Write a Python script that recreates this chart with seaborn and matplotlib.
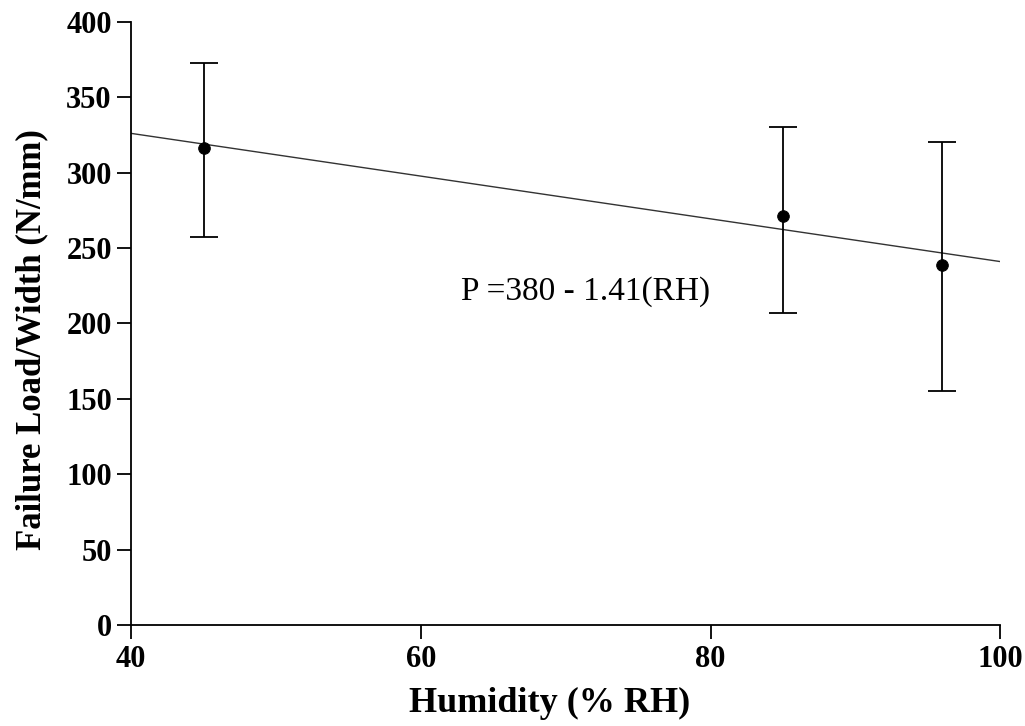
import matplotlib
matplotlib.use("Agg")
import matplotlib.pyplot as plt
import seaborn as sns
import pandas as pd

humidity = [45, 85, 96]
load = [316, 271, 239]
err_low = [257, 207, 155]
err_high = [373, 330, 320]
fit_x = [40, 100]
fit_y = [326, 241]
equation = "P =380 - 1.41(RH)"
xticks = [40, 60, 80, 100]
yticks = [0, 50, 100, 150, 200, 250, 300, 350, 400]

sns.set_style("ticks")
plt.rcParams['font.family'] = ['Liberation Serif', 'DejaVu Serif']

fig = plt.figure(figsize=(10.25, 7.26), dpi=100)
ax = fig.add_axes([0.128, 0.139, 0.848, 0.831])

df = pd.DataFrame({"x": humidity, "y": load})
fit = pd.DataFrame({"x": fit_x, "y": fit_y})

sns.lineplot(data=fit, x="x", y="y", ax=ax, color="#333333", linewidth=1.0)
yerr = [[l - lo for l, lo in zip(load, err_low)], [hi - l for l, hi in zip(load, err_high)]]
ax.errorbar(humidity, load, yerr=yerr, fmt="none", ecolor="black", elinewidth=1.3,
            capsize=10, capthick=1.3)
sns.scatterplot(data=df, x="x", y="y", ax=ax, color="black", s=70, edgecolor="black", zorder=5)

ax.text(62.8, 221, equation, fontsize=24, va="center", ha="left", color="black")

ax.set_xlim(40, 100)
ax.set_ylim(0, 400)
ax.set_xticks(xticks)
ax.set_yticks(yticks)
for lab in ax.get_xticklabels() + ax.get_yticklabels():
    lab.set_fontweight("bold")
    lab.set_fontsize(22)
ax.tick_params(axis="both", direction="out", length=10, width=1.3, colors="black", pad=4)
ax.set_xlabel("Humidity (% RH)", fontsize=26, fontweight="bold", color="black")
ax.set_ylabel("Failure Load/Width (N/mm)", fontsize=25, fontweight="bold", color="black")
ax.xaxis.set_label_coords(0.481, -0.102)
ax.yaxis.set_label_coords(-0.0955, 0.473)
sns.despine(ax=ax)
for s in ["left", "bottom"]:
    ax.spines[s].set_linewidth(1.3)
    ax.spines[s].set_color("black")

fig.savefig("out.png", dpi=100)
